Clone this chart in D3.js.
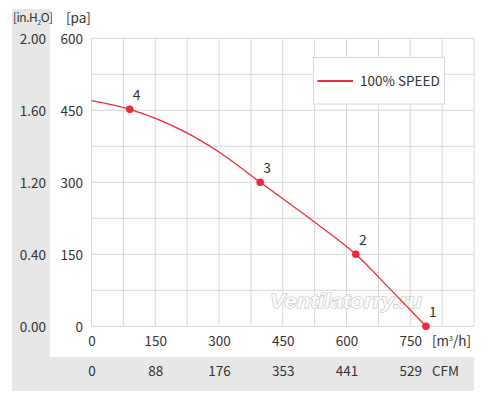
<!DOCTYPE html>
<html><head><meta charset="utf-8">
<script src="https://cdn.jsdelivr.net/npm/d3@7/dist/d3.min.js"></script>
<style>
body{margin:0;background:#fff;}
text{font-family:"Noto Sans CJK KR","Noto Sans",sans-serif;fill:#333;}
</style></head>
<body><svg id="c" width="490" height="402"></svg>
<script>
// Data
const curveFlow = [0, 90, 220, 300, 397, 528, 622, 700, 787];
const curvePressure = [470, 452, 405, 363, 300, 215, 150, 80, 0];
const markerFlow = [787, 622, 397, 90];
const markerPressure = [0, 150, 300, 452];
const markerLabels = ["1", "2", "3", "4"];
const xTicks = [0, 150, 300, 450, 600, 750];
const cfmLabels = ["0", "88", "176", "353", "441", "529"];
const yTicks = [0, 150, 300, 450, 600];
const inH2OLabels = ["0.00", "0.40", "1.20", "1.60", "2.00"];
const seriesName = "100% SPEED";

const svg = d3.select("#c");
const L = 91.5, R = 474, T = 38.3, B = 326.3;
const x = d3.scaleLinear().domain([0, 900]).range([L, R]);
const y = d3.scaleLinear().domain([0, 600]).range([B, T]);

// gray backgrounds
svg.append("rect").attr("x",12).attr("y",9).attr("width",38).attr("height",382).attr("fill","#e6e7e6");
svg.append("rect").attr("x",12).attr("y",357).attr("width",462).attr("height",34).attr("fill","#e6e7e6");

// grid
const g = svg.append("g");
g.selectAll("line.v").data(d3.range(0, 901, 75)).join("line")
  .attr("x1", d=>x(d)).attr("x2", d=>x(d)).attr("y1", T).attr("y2", B)
  .attr("stroke", "#d8d8d8").attr("stroke-width", 1);
g.selectAll("line.h").data(d3.range(0, 601, 75)).join("line")
  .attr("x1", L).attr("x2", R).attr("y1", d=>y(d)).attr("y2", d=>y(d))
  .attr("stroke", "#d8d8d8").attr("stroke-width", 1);

// watermark
svg.append("text").attr("x", 270).attr("y", 308)
  .attr("textLength", 152).attr("lengthAdjust","spacingAndGlyphs")
  .style("font-family","'Liberation Sans',sans-serif").style("font-weight","bold").style("font-style","italic").style("font-size","20px")
  .style("fill","#fbfbfb").style("stroke","#c4c4c4").style("stroke-width",1.2).style("paint-order","stroke")
  .text("Ventilatorry.ru");

// x axis labels
const xa = d3.axisBottom(x).tickValues(xTicks).tickSize(0).tickPadding(0);
const gx = svg.append("g").attr("transform", `translate(0,${B+20})`).call(xa);
gx.select(".domain").remove();
gx.selectAll("text").style("font-size","13.5px").attr("dy",0).style("fill","#333");
svg.append("text").attr("x",432).attr("y",B+20).style("font-size","13.5px").html('[m<tspan dy="-5" style="font-size:7px">3</tspan><tspan dy="5">/h]</tspan>');

// CFM row
const ca = d3.axisBottom(x).tickValues(xTicks).tickFormat((d,i)=>cfmLabels[i]).tickSize(0).tickPadding(0);
const gc = svg.append("g").attr("transform", `translate(0,${B+50})`).call(ca);
gc.select(".domain").remove();
gc.selectAll("text").style("font-size","13.5px").attr("dy",0).style("fill","#333");
svg.append("text").attr("x",432).attr("y",B+50).style("font-size","13.5px").text("CFM");

// y axis pa
const ya = d3.axisLeft(y).tickValues(yTicks).tickSize(0).tickPadding(0);
const gy = svg.append("g").attr("transform", `translate(${83},0)`).call(ya);
gy.select(".domain").remove();
gy.selectAll("text").style("font-size","13.5px").attr("dy","0.35em").style("fill","#333");
svg.append("text").attr("x",66).attr("y",23).style("font-size","13.5px").text("[pa]");

// y axis in.H2O
const yb = d3.axisLeft(y).tickValues(yTicks).tickFormat((d,i)=>inH2OLabels[i]).tickSize(0).tickPadding(0);
const gb = svg.append("g").attr("transform", `translate(${46},0)`).call(yb);
gb.select(".domain").remove();
gb.selectAll("text").style("font-size","13.5px").attr("dy","0.35em").style("fill","#333");
svg.append("text").attr("x",13).attr("y",22).style("font-size","12px").style("letter-spacing","-0.5px")
  .html('[in.H<tspan dy="3" style="font-size:7px">2</tspan><tspan dy="-3">O]</tspan>');

// curve
const pts = curveFlow.map((f,i)=>[f, curvePressure[i]]);
const line = d3.line().x(d=>x(d[0])).y(d=>y(d[1])).curve(d3.curveMonotoneX);
svg.append("path").attr("d", line(pts)).attr("fill","none").attr("stroke","#ee2a33").attr("stroke-width",1.3);

// markers
const mk = markerFlow.map((f,i)=>({f, p: markerPressure[i], l: markerLabels[i]}));
svg.selectAll("circle.m").data(mk).join("circle")
  .attr("cx", d=>x(d.f)).attr("cy", d=>y(d.p)).attr("r", 3.8).attr("fill","#ee2a33");
svg.selectAll("text.ml").data(mk).join("text")
  .attr("x", d=>x(d.f)+7).attr("y", d=>y(d.p)-9).attr("text-anchor","middle")
  .style("font-size","14px").text(d=>d.l);

// legend
svg.append("rect").attr("x",313.5).attr("y",57.5).attr("width",131).attr("height",46.5)
  .attr("fill","#fff").attr("stroke","#d8d8d8");
svg.append("line").attr("x1",317.5).attr("x2",353).attr("y1",81).attr("y2",81)
  .attr("stroke","#ee2a33").attr("stroke-width",2);
svg.append("text").attr("x",360).attr("y",86).style("font-size","13.5px").text(seriesName);
</script></body></html>
